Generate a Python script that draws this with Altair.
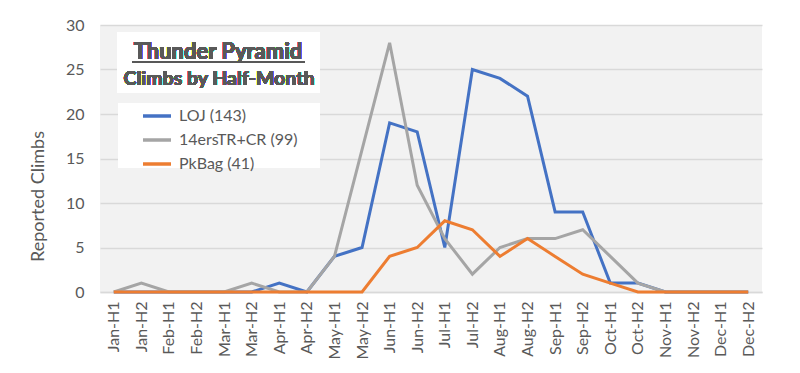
import altair as alt
import pandas as pd

categories = ["Jan-H1", "Jan-H2", "Feb-H1", "Feb-H2", "Mar-H1", "Mar-H2",
              "Apr-H1", "Apr-H2", "May-H1", "May-H2", "Jun-H1", "Jun-H2",
              "Jul-H1", "Jul-H2", "Aug-H1", "Aug-H2", "Sep-H1", "Sep-H2",
              "Oct-H1", "Oct-H2", "Nov-H1", "Nov-H2", "Dec-H1", "Dec-H2"]
loj = [0, 0, 0, 0, 0, 0, 1, 0, 4, 5, 19, 18, 5, 25, 24, 22, 9, 9, 1, 1, 0, 0, 0, 0]
fourteeners = [0, 1, 0, 0, 0, 1, 0, 0, 4, 16, 28, 12, 6, 2, 5, 6, 6, 7, 4, 1, 0, 0, 0, 0]
pkbag = [0, 0, 0, 0, 0, 0, 0, 0, 0, 0, 4, 5, 8, 7, 4, 6, 4, 2, 1, 0, 0, 0, 0, 0]
series_names = ["LOJ (143)", "14ersTR+CR (99)", "PkBag (41)"]
series_colors = ["#4472C4", "#A5A5A5", "#ED7D31"]

rows = []
for name, vals in zip(series_names, [loj, fourteeners, pkbag]):
    for c, v in zip(categories, vals):
        rows.append({"period": c, "climbs": v, "series": name, "order": series_names.index(name)})
df = pd.DataFrame(rows)

FONT = "Lato"
GREY = "#595959"

lines = alt.Chart(df).mark_line(strokeWidth=3, strokeJoin="miter").encode(
    x=alt.X("period:N", sort=categories, title=None,
            scale=alt.Scale(type="point", padding=0.5),
            axis=alt.Axis(labelAngle=-90, labelFontSize=16, labelColor=GREY, labelFont=FONT,
                          ticks=False, domainColor="#D9D9D9", domainWidth=1.5,
                          labelPadding=9, grid=False)),
    y=alt.Y("climbs:Q", title="Reported Climbs",
            scale=alt.Scale(domain=[0, 30], nice=False),
            axis=alt.Axis(values=[0, 5, 10, 15, 20, 25, 30], labelFontSize=16, labelColor=GREY,
                          labelFont=FONT, ticks=False, domain=False, gridColor="#D9D9D9",
                          gridWidth=1.5, labelPadding=16, titleFont=FONT, titleFontSize=18,
                          titleFontWeight="normal", titleColor=GREY,
                          titleX=-62, titleY=171, titleAlign="center", titleBaseline="middle")),
    color=alt.Color("series:N", sort=series_names,
                    scale=alt.Scale(domain=series_names, range=series_colors),
                    legend=alt.Legend(title=None, orient="none", legendX=41, legendY=75,
                                      symbolType="stroke", symbolStrokeWidth=3.5, symbolSize=784,
                                      labelFont=FONT, labelFontSize=16, labelColor=GREY,
                                      labelOffset=6, rowPadding=-6, padding=0)),
    order=alt.Order("order:Q"),
)

title_box = alt.Chart(df).mark_rect(color="white").encode(
    x=alt.value(17), x2=alt.value(220), y=alt.value(7), y2=alt.value(68))
legend_box = alt.Chart(df).mark_rect(color="white").encode(
    x=alt.value(18), x2=alt.value(220), y=alt.value(78), y2=alt.value(143))
title1 = alt.Chart(df).mark_text(text="Thunder Pyramid", font=FONT, fontSize=22,
                                   fontWeight="bold", color=GREY, align="center",
                                   baseline="middle").encode(x=alt.value(118), y=alt.value(27))
underline = alt.Chart(df).mark_rule(color=GREY, strokeWidth=1.5).encode(
    x=alt.value(32), x2=alt.value(205), y=alt.value(37))
title2 = alt.Chart(df).mark_text(text="Climbs by Half-Month", font=FONT, fontSize=19.5,
                                   fontWeight="bold", color=GREY, align="center",
                                   baseline="middle").encode(x=alt.value(119), y=alt.value(54))

chart = alt.layer(lines, title_box, legend_box, title1, underline, title2).properties(
    width=662, height=267,
    autosize=alt.AutoSizeParams(type="none"),
    padding={"left": 92, "top": 17, "right": 30, "bottom": 73},
    background="white",
).configure_view(fill="#F2F2F2", stroke=None)

chart.save("out.html", embed_options={"renderer": "svg", "actions": False})
